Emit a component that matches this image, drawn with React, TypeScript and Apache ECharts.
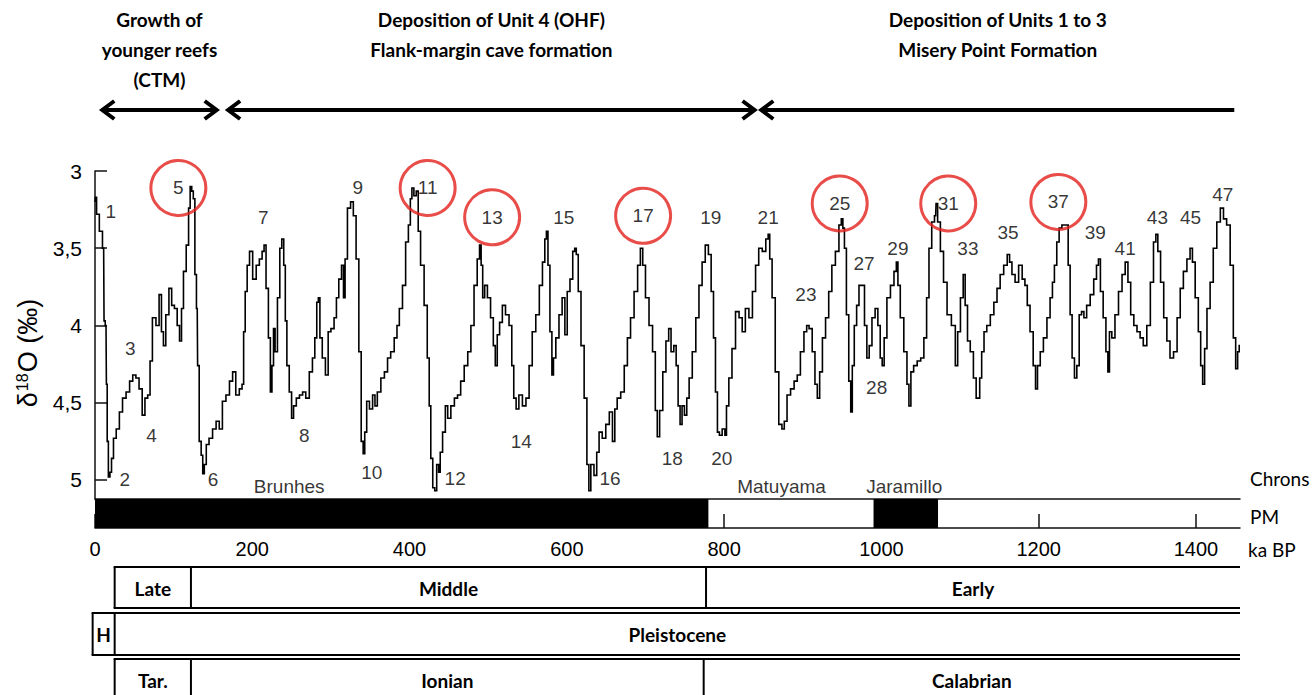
import React, { useEffect, useRef } from 'react';
import * as echarts from 'echarts';

// Benthic δ18O record (ka BP, ‰)
const d18O: [number, number][] = [
  [0,3.20],[1,3.17],[3,3.28],[8,3.39],[11,3.50],[12,3.97],[14,4.00],[15,4.38],[16,4.75],[18,4.98],[20,4.95],[22,4.86],[25,4.73],[29,4.67],[33,4.56],[37,4.47],[42,4.43],[46,4.36],[50,4.32],[54,4.34],[58,4.41],[62,4.58],[65,4.47],[69,4.45],[71,4.23],[75,3.95],[80,4.00],[83,3.80],[86,4.04],[88,4.13],[92,3.93],[96,3.76],[99,3.87],[103,3.89],[106,4.00],[109,4.10],[111,3.89],[114,3.65],[118,3.48],[120,3.24],[122,3.10],[124,3.13],[126,3.18],[128,3.67],[130,3.89],[131,4.26],[134,4.75],[136,4.84],[138,4.96],[140,4.90],[143,4.77],[147,4.73],[152,4.67],[156,4.62],[160,4.67],[164,4.49],[169,4.45],[173,4.36],[177,4.30],[181,4.45],[186,4.41],[188,4.38],[190,4.04],[192,3.78],[195,3.61],[198,3.52],[203,3.70],[207,3.61],[211,3.57],[214,3.52],[216,3.48],[219,3.76],[222,4.08],[224,4.43],[226,4.26],[228,4.02],[230,4.17],[234,3.82],[236,3.50],[239,3.44],[241,3.61],[243,3.97],[245,4.26],[249,4.43],[251,4.60],[254,4.52],[258,4.47],[262,4.45],[266,4.43],[270,4.47],[275,4.30],[278,4.21],[281,4.08],[283,3.85],[285,3.82],[287,4.08],[291,4.21],[295,4.32],[298,4.04],[302,4.02],[306,3.95],[308,3.82],[312,3.70],[315,3.61],[317,3.82],[319,3.57],[323,3.24],[327,3.20],[330,3.29],[334,3.57],[337,4.17],[340,4.75],[342,4.83],[344,4.69],[347,4.49],[351,4.54],[355,4.45],
  [357,4.52],[361,4.43],[366,4.34],[370,4.30],[374,4.21],[378,4.17],[383,4.08],[385,4.00],[389,3.89],[393,3.74],[397,3.46],[400,3.35],[402,3.18],[404,3.11],[407,3.16],[410,3.13],[412,3.39],[416,3.61],[421,3.87],[424,4.21],[426,4.52],[428,4.86],[431,5.05],[433,5.07],[436,4.90],[438,4.95],[440,4.82],[444,4.69],[447,4.52],[450,4.60],[455,4.52],[459,4.47],[463,4.45],[467,4.36],[472,4.26],[476,4.17],[480,4.00],[484,3.74],[488,3.57],[490,3.48],[492,3.61],[494,3.82],[497,3.74],[501,3.82],[505,3.95],[508,4.13],[510,4.26],[513,4.06],[516,3.98],[520,3.87],[524,3.93],[529,4.00],[531,4.26],[534,4.47],[537,4.54],[541,4.45],[546,4.52],[550,4.47],[554,4.26],[558,4.04],[563,3.93],[567,3.74],[571,3.59],[573,3.44],[575,3.39],[577,3.61],[580,4.04],[582,4.32],[584,4.21],[588,4.08],[592,3.93],[596,3.82],[599,4.06],[602,3.78],[606,3.70],[609,3.52],[611,3.50],[613,3.54],[616,3.78],[620,4.13],[624,4.47],[627,4.90],[629,5.07],[632,4.90],[637,4.97],[639,4.82],[643,4.69],[647,4.73],[652,4.64],[656,4.56],[660,4.75],[662,4.54],[666,4.47],[671,4.43],[675,4.26],[679,4.08],[683,3.95],[688,3.78],[692,3.61],[695,3.50],[698,3.61],[702,3.82],[707,4.00],[711,4.17],[714,4.55],
  [716,4.72],[720,4.55],[724,4.30],[728,4.10],[731,4.02],[734,4.17],[738,4.13],[740,4.26],[743,4.52],[745,4.64],[748,4.52],[751,4.58],[754,4.47],[757,4.34],[762,4.17],[766,3.95],[770,3.74],[774,3.59],[778,3.48],[782,3.54],[785,3.78],[788,4.08],[790,4.43],[793,4.69],[795,4.71],[800,4.67],[802,4.71],[804,4.52],[808,4.34],[812,4.15],[817,3.91],[821,3.95],[825,4.04],[829,3.89],[834,3.95],[838,3.78],[842,3.61],[846,3.50],[851,3.52],[855,3.44],[857,3.41],[859,3.57],[863,3.82],[867,4.30],[872,4.64],[875,4.67],[878,4.62],[882,4.45],[887,4.41],[891,4.36],[895,4.32],[899,4.17],[904,4.04],[906,4.00],[910,4.02],[914,4.17],[917,4.38],[920,4.47],[923,4.30],[927,4.08],[931,3.95],[935,3.78],[939,3.61],[944,3.52],[948,3.35],[950,3.31],[952,3.37],[954,3.50],[957,3.93],[960,4.36],[962,4.56],[964,4.26],[967,4.00],[970,3.87],[973,3.74],[977,3.74],[980,4.00],[983,4.21],[986,4.13],[990,3.95],[994,3.89],[997,4.00],[1000,4.21],[1002,4.26],[1005,4.08],[1009,3.82],[1014,3.74],[1018,3.65],[1020,3.59],[1022,3.74],[1026,3.95],[1031,4.17],[1034,4.38],[1036,4.52],[1039,4.30],[1043,4.26],[1048,4.23],[1052,4.21],[1056,4.08],[1059,3.82],[1062,3.50],[1066,3.33],[1069,3.29],[1070,3.21],[1073,3.33],[1077,3.52],[1081,3.72],
  [1086,3.93],[1092,4.00],[1096,4.26],[1098,4.04],[1103,3.82],[1105,3.67],[1108,3.87],[1111,4.10],[1115,4.17],[1119,4.34],[1122,4.47],[1124,4.47],[1126,4.34],[1129,4.17],[1132,4.04],[1136,4.00],[1141,3.93],[1145,3.85],[1149,3.76],[1153,3.67],[1158,3.61],[1162,3.54],[1164,3.59],[1168,3.67],[1172,3.72],[1177,3.61],[1181,3.70],[1184,3.74],[1187,3.87],[1191,4.04],[1195,4.26],[1197,4.41],[1200,4.26],[1204,4.17],[1208,4.08],[1213,3.95],[1216,3.82],[1219,3.72],[1221,3.61],[1225,3.46],[1227,3.37],[1232,3.35],[1236,3.35],[1239,3.61],[1241,3.93],[1244,4.21],[1247,4.34],[1250,4.26],[1253,3.93],[1256,3.91],[1259,3.95],[1263,3.87],[1268,3.80],[1272,3.70],[1275,3.61],[1277,3.57],[1280,3.78],[1284,3.95],[1287,4.17],[1289,4.30],[1291,4.04],[1295,4.08],[1299,3.93],[1304,3.78],[1308,3.67],[1312,3.59],[1315,3.72],[1319,3.93],[1323,4.00],[1327,4.04],[1331,4.08],[1335,4.13],[1340,4.00],[1344,3.72],[1348,3.46],[1350,3.41],[1353,3.52],[1357,3.72],[1361,3.95],[1365,4.10],[1369,4.21],[1374,4.17],[1378,3.95],[1382,3.76],[1386,3.65],[1391,3.57],[1394,3.50],[1397,3.59],[1401,3.82],[1405,4.04],[1407,4.26],[1410,4.38],[1412,4.15],[1416,3.89],[1420,3.72],[1424,3.50],[1429,3.33],[1433,3.24],[1437,3.31],[1441,3.35],[1446,3.61],[1449,4.08],[1452,4.28],[1454,4.17],[1456,4.13],
];

// Marine isotope stage labels
const misLabels = ['1','2','3','4','5','6','7','8','9','10','11','12','13','14','15','16','17','18','19','20','21','23','25','27','28','29','31','33','35','37','39','41','43','45','47'];
const misAge = [20,38,45,72,106,150,214,266,334,352,423,458,505,542,596,655,697,734,783,797,856,904,947,978,994,1021,1085,1110,1161,1225,1272,1310,1351,1393,1434];
const misValue = [3.26,5.0,4.15,4.71,3.11,5.0,3.30,4.71,3.11,4.95,3.11,4.99,3.30,4.75,3.30,4.99,3.29,4.86,3.30,4.86,3.30,3.80,3.21,3.60,4.40,3.50,3.21,3.50,3.40,3.20,3.40,3.50,3.30,3.30,3.15];
const circledStages = ['5','11','13','17','25','31','37'];

// Paleomagnetic chrons
const chronNames = ['Brunhes', 'Matuyama', 'Jaramillo'];
const chronAge = [247, 873, 1029];
const normalStart = [0, 990];
const normalEnd = [780, 1072];

// Axes
const kaTicks = [0, 200, 400, 600, 800, 1000, 1200, 1400];
const d18OTicks = [3, 3.5, 4, 4.5, 5];
const KA_MAX = 1456;

// Depositional phases (top arrows)
const phaseLabels = ['Growth of\nyounger reefs\n(CTM)', 'Deposition of Unit 4 (OHF)\nFlank-margin cave formation', 'Deposition of Units 1 to 3\nMisery Point Formation'];
const phaseStart = [8, 168, 846];
const phaseEnd = [156, 840, 1450];
const phaseRightHead = [true, true, false];

// Chronostratigraphic table
const tableNames = ['Late', 'Middle', 'Early', 'H', 'Pleistocene', 'Tar.', 'Ionian', 'Calabrian'];
const tableRow = [0, 0, 0, 1, 1, 2, 2, 2];
const tableFrom = [25, 122, 777, -3, 25, 25, 122, 774];
const tableTo = [122, 777, 1456, 25, 1456, 122, 774, 1456];

const ROW_TOP = [7, 53, 99];
const ROW_BOTTOM = [48, 95, 150];
const ROW_TEXT = [28, 74, 120];

const SANS = 'Liberation Sans, Arial, sans-serif';
const CAL = 'Lato';

export default function App() {
  const ref = useRef<HTMLDivElement>(null);
  useEffect(() => {
    const chart = echarts.init(ref.current as HTMLDivElement, null, { renderer: 'svg' });
    const hiddenX = (gridIndex: number) => ({ type: 'value', gridIndex, min: 0, max: KA_MAX, show: false });

    const option: any = {
      animation: false,
      grid: [
        { left: 95, top: 171, width: 1145, height: 328 },
        { left: 95, top: 499, width: 1145, height: 29 },
        { left: 95, top: 0, width: 1145, height: 120 },
        { left: 95, top: 560, width: 1145, height: 135 },
      ],
      xAxis: [
        {
          type: 'value', gridIndex: 0, min: 0, max: KA_MAX, position: 'bottom',
          axisLine: { show: true, onZero: false, lineStyle: { color: '#111', width: 1.5 } },
          axisTick: { show: false }, axisLabel: { show: false }, splitLine: { show: false },
        },
        {
          type: 'value', gridIndex: 1, min: 0, max: KA_MAX, position: 'bottom',
          axisLine: { show: true, onZero: false, lineStyle: { color: '#111', width: 1.5 } },
          axisTick: { show: true, inside: true, length: 14, customValues: kaTicks, lineStyle: { color: '#111', width: 1.5 } },
          axisLabel: {
            show: true, customValues: kaTicks, fontSize: 20, fontFamily: SANS, color: '#000', margin: 11,
            formatter: (v: number) => String(v),
          },
          splitLine: { show: false },
        },
        hiddenX(2),
        hiddenX(3),
      ],
      yAxis: [
        {
          type: 'value', gridIndex: 0, min: 3, max: 5.123, inverse: true,
          axisLine: { show: true, onZero: false, lineStyle: { color: '#111', width: 1.5 } },
          axisTick: { show: true, inside: true, length: 12, customValues: d18OTicks, lineStyle: { color: '#111', width: 1.5 } },
          axisLabel: {
            show: true, customValues: d18OTicks, fontSize: 21, fontFamily: SANS, color: '#000', margin: 13,
            formatter: (v: number) => String(v).replace('.', ','),
          },
          splitLine: { show: false },
          name: '{n|δ}{s|18}{n|O (‰)}',
          nameLocation: 'middle',
          nameGap: 50,
          nameTextStyle: {
            padding: [0, 36, 0, 0],
            rich: {
              n: { fontSize: 27, fontFamily: SANS, color: '#000' },
              s: { fontSize: 16, fontFamily: SANS, color: '#000', verticalAlign: 'top', padding: [0, 1, 0, 1] },
            },
          },
        },
        { type: 'value', gridIndex: 1, min: 0, max: 1, show: false },
        { type: 'value', gridIndex: 2, min: 0, max: 120, inverse: true, show: false },
        { type: 'value', gridIndex: 3, min: 0, max: 135, inverse: true, show: false },
      ],
      series: [
        {
          type: 'line', xAxisIndex: 0, yAxisIndex: 0, data: d18O, step: 'middle',
          showSymbol: false, symbol: 'none', silent: true, z: 3,
          lineStyle: { color: '#000', width: 1.6, join: 'miter' },
        },
        {
          type: 'scatter', xAxisIndex: 0, yAxisIndex: 0, clip: false, silent: true, z: 5,
          symbolSize: 55,
          itemStyle: { color: 'rgba(0,0,0,0)', borderColor: '#e2211c', borderWidth: 3 },
          data: circledStages.map((s) => {
            const i = misLabels.indexOf(s);
            return { value: [misAge[i], misValue[i]], name: s };
          }),
        },
        {
          type: 'scatter', xAxisIndex: 0, yAxisIndex: 0, clip: false, silent: true, z: 6,
          symbolSize: 1, itemStyle: { color: 'rgba(0,0,0,0)' },
          label: { show: true, position: 'inside', formatter: '{b}', fontSize: 19, fontFamily: SANS, color: '#000' },
          data: misLabels.map((s, i) => ({ value: [misAge[i], misValue[i]], name: s })),
        },
        {
          type: 'custom', xAxisIndex: 1, yAxisIndex: 1, clip: false, silent: true, z: 2,
          data: normalStart.map((s, i) => [s, normalEnd[i], 0, 1]),
          encode: { x: [0, 1], y: [2, 3] },
          renderItem: (params: any, api: any) => {
            const p0 = api.coord([api.value(0), 1]);
            const p1 = api.coord([api.value(1), 0]);
            return {
              type: 'rect',
              shape: { x: p0[0], y: p0[1], width: p1[0] - p0[0], height: p1[1] - p0[1] },
              style: { fill: '#000' },
            };
          },
        },
        {
          type: 'scatter', xAxisIndex: 1, yAxisIndex: 1, clip: false, silent: true,
          symbolSize: 1, itemStyle: { color: 'rgba(0,0,0,0)' },
          label: { show: true, position: 'top', distance: 3, formatter: '{b}', fontSize: 19, fontFamily: SANS, color: '#000' },
          data: chronNames.map((n, i) => ({ value: [chronAge[i], 1], name: n })),
        },
        {
          type: 'custom', xAxisIndex: 2, yAxisIndex: 2, clip: false, silent: true,
          data: phaseStart.map((s, i) => [s, phaseEnd[i], 0, 120]),
          encode: { x: [0, 1], y: [2, 3] },
          renderItem: (params: any, api: any) => {
            const i = params.dataIndex;
            const a = api.coord([phaseStart[i], 110]);
            const b = api.coord([phaseEnd[i], 110]);
            const y = a[1];
            const arrowStyle = { stroke: '#000', lineWidth: 4, fill: null };
            const children: any[] = [
              { type: 'line', shape: { x1: a[0] + 1, y1: y, x2: b[0] - 1, y2: y }, style: { stroke: '#000', lineWidth: 4 } },
              { type: 'polyline', shape: { points: [[a[0] + 13, y - 9], [a[0] + 1, y], [a[0] + 13, y + 9]] }, style: arrowStyle },
            ];
            if (phaseRightHead[i]) {
              children.push({ type: 'polyline', shape: { points: [[b[0] - 13, y - 9], [b[0] - 1, y], [b[0] - 13, y + 9]] }, style: arrowStyle });
            }
            const t = api.coord([(phaseStart[i] + phaseEnd[i]) / 2, 4]);
            children.push({
              type: 'text', x: t[0], y: t[1],
              style: {
                text: phaseLabels[i], fill: '#000', fontSize: 19, fontWeight: 'bold', fontFamily: CAL,
                align: 'center', verticalAlign: 'top', textAlign: 'center', textVerticalAlign: 'top', lineHeight: 30,
              },
            });
            return { type: 'group', children };
          },
        },
        {
          type: 'custom', xAxisIndex: 3, yAxisIndex: 3, clip: false, silent: true,
          data: tableFrom.map((f, i) => [f, tableTo[i], 0, 135]),
          encode: { x: [0, 1], y: [2, 3] },
          renderItem: (params: any, api: any) => {
            const i = params.dataIndex;
            const r = tableRow[i];
            const x0 = api.coord([tableFrom[i], 0])[0];
            const x1 = api.coord([tableTo[i], 0])[0];
            const yt = api.coord([0, ROW_TOP[r]])[1];
            const yb = api.coord([0, ROW_BOTTOM[r]])[1];
            const yc = api.coord([0, ROW_TEXT[r]])[1];
            const ls = { stroke: '#000', lineWidth: 2 };
            return {
              type: 'group',
              children: [
                { type: 'line', shape: { x1: x0 - 1, y1: yt, x2: x1, y2: yt }, style: ls },
                { type: 'line', shape: { x1: x0 - 1, y1: yb, x2: x1, y2: yb }, style: ls },
                { type: 'line', shape: { x1: x0, y1: yt, x2: x0, y2: yb }, style: ls },
                {
                  type: 'text', x: (x0 + x1) / 2, y: yc,
                  style: {
                    text: tableNames[i], fill: '#000', fontSize: 19, fontWeight: 'bold', fontFamily: CAL,
                    align: 'center', verticalAlign: 'middle', textAlign: 'center', textVerticalAlign: 'middle',
                  },
                },
              ],
            };
          },
        },
      ],
      graphic: [
        { type: 'text', x: 1250, y: 478, style: { text: 'Chrons', fill: '#000', fontSize: 19, fontFamily: CAL, verticalAlign: 'middle', textVerticalAlign: 'middle' } },
        { type: 'text', x: 1250, y: 516, style: { text: 'PM', fill: '#000', fontSize: 19, fontFamily: CAL, verticalAlign: 'middle', textVerticalAlign: 'middle' } },
        { type: 'text', x: 1248, y: 549, style: { text: 'ka BP', fill: '#000', fontSize: 19, fontFamily: CAL, verticalAlign: 'middle', textVerticalAlign: 'middle' } },
      ],
    };
    chart.setOption(option);
    return () => chart.dispose();
  }, []);
  return <div ref={ref} style={{ position: 'absolute', left: 0, top: 0, width: 1312, height: 695, background: '#fff' }} />;
}
